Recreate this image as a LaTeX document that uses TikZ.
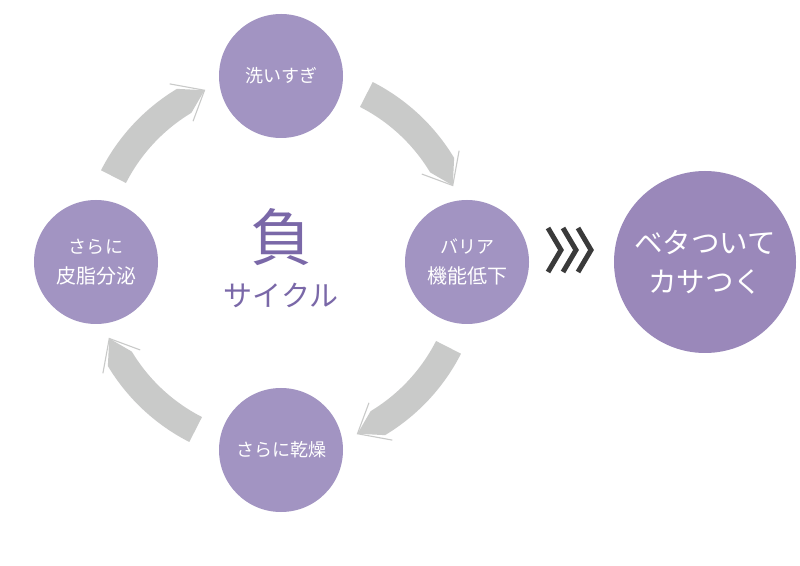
\documentclass[tikz,border=0pt]{standalone}
\usepackage{fontspec}
\newfontfamily\jp{Noto Sans CJK JP}
\definecolor{circ}{HTML}{A294C2}
\definecolor{bigcirc}{HTML}{9A88BA}
\definecolor{arrowgray}{HTML}{C9CAC9}
\definecolor{titlepurple}{HTML}{7A68A8}
\definecolor{chev}{HTML}{3A3A3A}
\tikzset{
  stage/.style={circle, fill=circ, minimum size=124pt, inner sep=0pt, text=white, align=center, font=\jp\fontsize{18}{30}\selectfont},
  bigstage/.style={circle, fill=bigcirc, minimum size=182pt, inner sep=0pt, text=white, align=center, font=\jp\fontsize{28.5}{39}\selectfont},
  chevline/.style={draw=chev, line width=5pt, miter limit=10},
}
\begin{document}
\begin{tikzpicture}[x=1pt,y=1pt]
\useasboundingbox (0,0) rectangle (800,565);
\fill[white] (0,0) rectangle (800,565);
\coordinate (C) at (281,303);
% cycle arrows
\begin{scope}[shift={(C)}]
\foreach \r in {0,-90,-180,-270}{
  \begin{scope}[rotate=\r]
    \fill[arrowgray] (153:202) arc[start angle=153, end angle=121, radius=202]
      -- (114:188) -- (121:174) arc[start angle=121, end angle=153, radius=174] -- cycle;
    \draw[arrowgray, line width=1.1pt] (122:210) -- (114:188) -- (122:166);
  \end{scope}
}
\end{scope}
% nodes
\node[stage] (top) at (281,489) {洗いすぎ};
\node[stage] (right) at (467,303) {バリア\\\fontsize{20}{30}\selectfont 機能低下};
\node[stage] (bottom) at (281,115) {さらに乾燥};
\node[stage] (left) at (96,303) {さらに\\\fontsize{20}{30}\selectfont 皮脂分泌};
\node[bigstage] (result) at (705,303) {ベタついて\\カサつく};
\node[text=titlepurple, font=\jp\fontsize{62}{62}\selectfont] (fu) at (281,328) {負};
\node[text=titlepurple, font=\jp\fontsize{29}{29}\selectfont] (cycle) at (281,270) {サイクル};
% chevrons
\foreach \i in {0,1,2}{
  \draw[chevline] (548+15*\i,337) -- (561+15*\i,315) -- (548+15*\i,293);
}
\end{tikzpicture}
\end{document}
